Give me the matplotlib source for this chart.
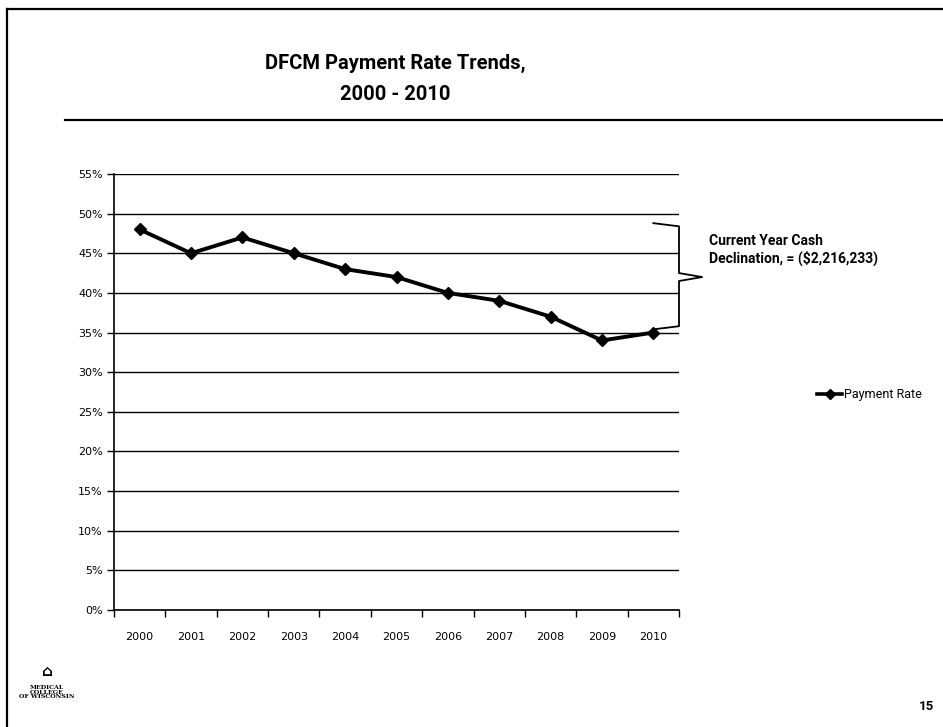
import matplotlib.pyplot as plt
import matplotlib.ticker as tck
from matplotlib.lines import Line2D

years = ["2000", "2001", "2002", "2003", "2004", "2005", "2006", "2007", "2008", "2009", "2010"]
payment_rate = [48, 45, 47, 45, 43, 42, 40, 39, 37, 34, 35]
y_ticks = list(range(0, 56, 5))

title = "DFCM Payment Rate Trends,\n2000 - 2010"
note = "Current Year Cash\nDeclination, = ($2,216,233)"
series_name = "Payment Rate"
page_no = "15"

narrow = ["Roboto", "DejaVu Sans"]

fig = plt.figure(figsize=(9.43, 7.27), dpi=100)
fig.patch.set_facecolor("white")

# slide frame
fig.add_artist(Line2D([7/943, 7/943], [0, 1 - 9/727], color="black", lw=1.6))
fig.add_artist(Line2D([7/943, 1], [1 - 9/727, 1 - 9/727], color="black", lw=1.6))
fig.add_artist(Line2D([65/943, 1], [1 - 120/727, 1 - 120/727], color="black", lw=1.6))

fig.text(395/943, 1 - 79/727, title, ha="center", va="center", fontsize=14.5,
         fontweight="bold", family=narrow, linespacing=1.75)

ax = fig.add_axes([114/943, 1 - 610/727, 565/943, 436/727])
x = list(range(len(years)))
ax.plot(x, payment_rate, color="black", lw=2.8, marker="D", markersize=6,
        label=series_name)
ax.set_xlim(-0.5, len(years) - 0.5)
ax.set_ylim(0, 55)
ax.set_yticks(y_ticks)
ax.yaxis.set_major_formatter(tck.FuncFormatter(lambda v, p: "%d%%" % v))
ax.set_xticks(x)
ax.set_xticklabels(years)
ax.set_xticks([i - 0.5 for i in range(len(years) + 1)], minor=True)
ax.tick_params(axis="x", which="major", length=0, pad=16, labelsize=8)
ax.tick_params(axis="x", which="minor", length=5, direction="out", width=1)
ax.tick_params(axis="y", length=5, direction="out", width=1, labelsize=8, pad=3)
ax.grid(axis="y", color="black", lw=1)
for s in ["top", "right"]:
    ax.spines[s].set_visible(False)
ax.spines["left"].set_linewidth(1.2)
ax.spines["bottom"].set_linewidth(1.2)

# curly brace beside the last years
bx0, bx1, btip = 10.0, 10.5, 10.95
btop, bbot = 48.8, 35.4
bmid = 42.0
ax.plot([bx0, bx1, bx1, btip, bx1, bx1, bx0],
        [btop, btop - 0.4, bmid + 0.5, bmid, bmid - 0.5, bbot + 0.4, bbot],
        color="black", lw=1.3, clip_on=False)

fig.text(709/943, 1 - 250/727, note, ha="left", va="center", fontsize=10,
         fontweight="bold", family=narrow, linespacing=1.15)

leg = fig.legend(handles=[Line2D([], [], color="black", lw=2.6, marker="D", markersize=5)],
                 labels=[series_name], loc="center left",
                 bbox_to_anchor=(806/943, 1 - 395/727), frameon=False,
                 handlelength=2.0, handletextpad=0.1, prop={"family": narrow, "size": 9})

# logo text
fig.text(47/943, 1 - 692/727, "MEDICAL\nCOLLEGE\nOF WISCONSIN", ha="center", va="center",
         fontsize=4.5, fontweight="bold", family="DejaVu Serif", linespacing=0.9)
fig.text(47/943, 1 - 672/727, "\u2302", ha="center", va="center", fontsize=11,
         fontweight="bold")

fig.text(926/943, 1 - 707/727, page_no, ha="center", va="center", fontsize=9.5,
         fontweight="bold", family=narrow)

fig.savefig("out.png", dpi=100)
